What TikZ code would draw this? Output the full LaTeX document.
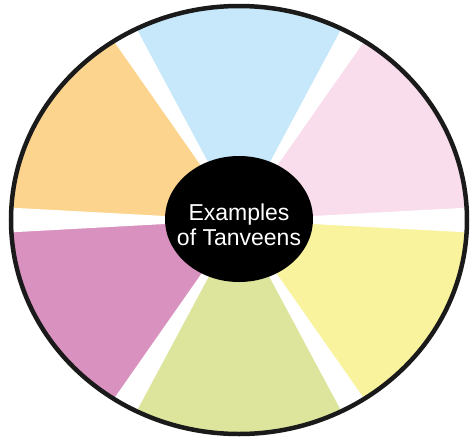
\documentclass[tikz,border=0pt]{standalone}
\usepackage{fontspec}
\newfontfamily\hubfont{Liberation Sans}
\definecolor{cpink}{HTML}{F9DDEC}
\definecolor{cblue}{HTML}{C7E8FA}
\definecolor{corange}{HTML}{FDD48E}
\definecolor{cpurple}{HTML}{D992BF}
\definecolor{cgreen}{HTML}{DCE59B}
\definecolor{cyellow}{HTML}{F9F39E}
\definecolor{crim}{HTML}{1A1A1A}
\tikzset{
  hubtext/.style={text=white, inner sep=0pt, align=center,
    font=\hubfont\fontsize{23}{25}\selectfont},
  rim/.style={draw=crim, line width=4.5pt},
  gapline/.style={draw=white, line width=3pt}
}
\begin{document}
\begin{tikzpicture}[x=1pt,y=-1pt]
\useasboundingbox (0,0) rectangle (472,440);
\fill[white] (0,0) rectangle (472,440);
\coordinate (o) at (239,220);
\begin{scope}
  \clip (o) ellipse [x radius=228, y radius=214];
  \foreach \a/\c in {0/cpink,60/cblue,120/corange,180/cpurple,240/cgreen,300/cyellow}{
    \fill[\c] (o) -- ({239+456*cos(\a)},{220-428*sin(\a)})
      -- ({239+456*cos(\a+30)},{220-428*sin(\a+30)})
      -- ({239+456*cos(\a+60)},{220-428*sin(\a+60)}) -- cycle;
  }
  \foreach \a in {0,60,120,180,240,300}{
    \fill[white] (o) -- ({239+456*cos(\a-3.3)},{220-428*sin(\a-3.3)})
      -- ({239+456*cos(\a+3.3)},{220-428*sin(\a+3.3)}) -- cycle;
    \coordinate (g\a) at ({239+456*cos(\a)},{220-428*sin(\a)});
    \draw[gapline] (o) -- (g\a);
  }
\end{scope}
\draw[rim] (o) ellipse [x radius=228, y radius=214];
\coordinate (hc) at (239,219);
\fill[black] (hc) ellipse [x radius=74, y radius=63];
\node[hubtext] (center) at (239,225) {Examples\\of Tanveens};
\end{tikzpicture}
\end{document}
